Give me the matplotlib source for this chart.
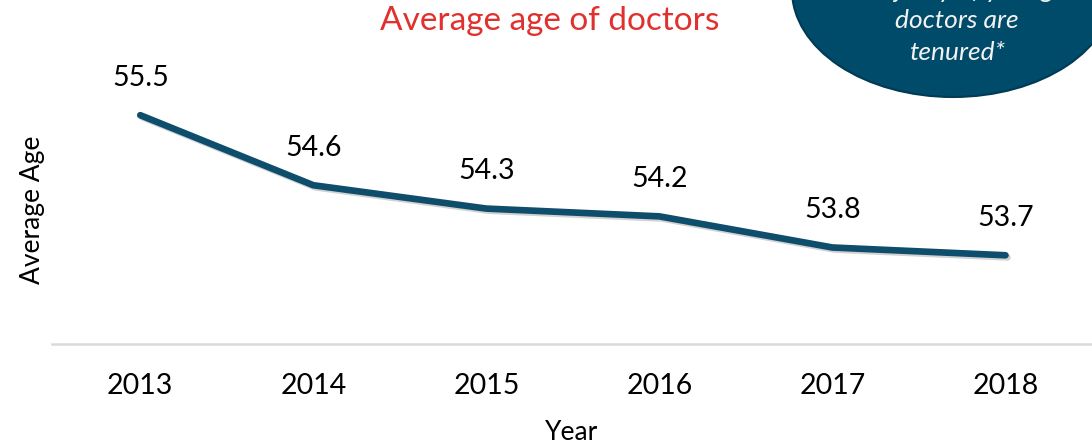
import matplotlib
matplotlib.use("Agg")
import matplotlib.pyplot as plt
import matplotlib.patheffects as pe
from matplotlib.patches import Ellipse

plt.rcParams['font.family'] = ['Lato', 'DejaVu Sans']

# data
years = ["2013", "2014", "2015", "2016", "2017", "2018"]
avg_age = [55.5, 54.6, 54.3, 54.2, 53.8, 53.7]

LINE_COL = "#0e4e6c"
TITLE_COL = "#e0312f"

fig = plt.figure(figsize=(10.92, 4.45), dpi=100)
ax = fig.add_axes([52 / 1092, 101 / 445, 1 - 52 / 1092, 344 / 445])

x = list(range(len(years)))
ax.plot(x, avg_age, color=LINE_COL, lw=4.8, solid_capstyle="round",
        solid_joinstyle="round",
        path_effects=[pe.SimpleLineShadow(offset=(1.5, -1.5), shadow_color="gray", alpha=0.35),
                      pe.Normal()])

for xi, v in zip(x, avg_age):
  ax.annotate(f"{v:.1f}", (xi, v), xytext=(0, 27), textcoords="offset points",
              ha="center", va="center", fontsize=20.5, color="black")

ax.set_xlim(-0.51, 5.5)
ax.set_ylim(52.56, 56.98)
ax.set_xticks(x)
ax.set_xticklabels(years, fontsize=20.5)
ax.set_yticks([])
ax.tick_params(axis="x", length=0, pad=21)

for s in ["top", "right", "left"]:
  ax.spines[s].set_visible(False)
ax.spines["bottom"].set_color("#d9d9d9")
ax.spines["bottom"].set_linewidth(1.8)

fig.text(572 / 1092, 1 - 432 / 445, "Year", ha="center", va="center", fontsize=19)
fig.text(33 / 1092, 1 - 210 / 445, "Average Age", ha="center", va="center",
         rotation=90, fontsize=19)

fig.text(550 / 1092, 1 - 21 / 445, "Average age of doctors", ha="center", va="center",
         fontsize=24, color=TITLE_COL)

# callout bubble, cut off by the top edge
bubble = Ellipse((953 / 1092, 1 + 10 / 445), 322 / 1092, 214 / 445,
                 transform=fig.transFigure, facecolor="#004a6a", edgecolor="#003a55",
                 lw=1.5, zorder=5)
fig.patches.append(bubble)
for yy, txt in [(-9, "majority of young"), (21, "doctors are"), (52, "tenured*")]:
  fig.text(957 / 1092, 1 - yy / 445, txt, ha="center", va="center", fontsize=19,
           style="italic", color="#f2f2f2", zorder=6)

plt.savefig("out.png", dpi=100)
